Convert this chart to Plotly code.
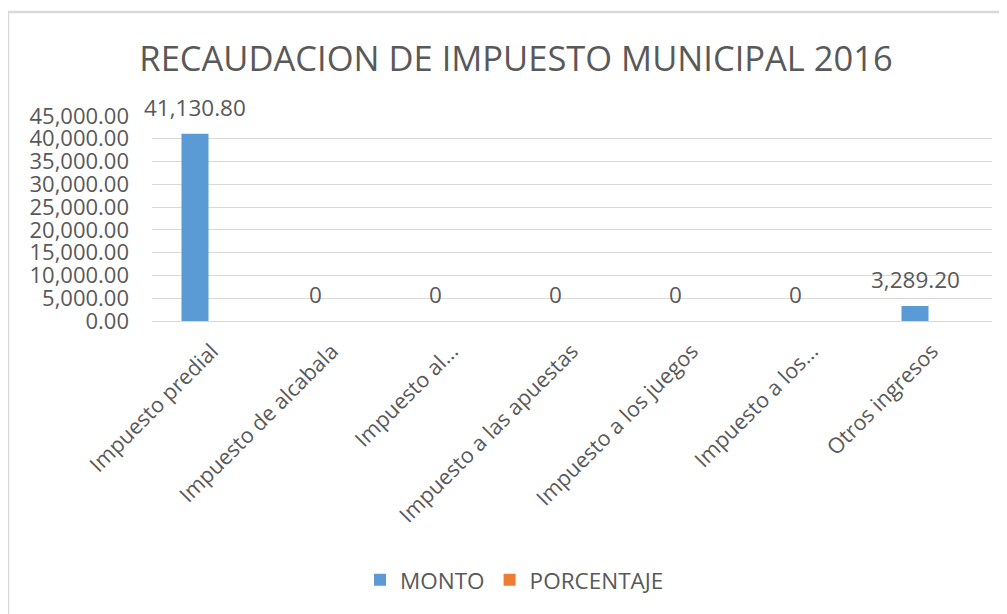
import plotly.graph_objects as go

categories = ["Impuesto predial", "Impuesto de alcabala", "Impuesto al...",
              "Impuesto a las apuestas", "Impuesto a los juegos",
              "Impuesto a los...", "Otros ingresos"]
monto = [41130.80, 0, 0, 0, 0, 0, 3289.20]
porcentaje = [0.93, 0, 0, 0, 0, 0, 0.07]
y_ticks = [0, 5000, 10000, 15000, 20000, 25000, 30000, 35000, 40000, 45000]

FONT = "Open Sans"
GRAY = "#595959"
GRID = "#d9d9d9"

def fmt(v):
    return "0" if v == 0 else f"{v:,.2f}"

fig = go.Figure()
fig.add_trace(go.Bar(name="MONTO", x=categories, y=monto, marker_color="#5b9bd5",
                     marker_line_width=0))
fig.add_trace(go.Bar(name="PORCENTAJE", x=categories, y=porcentaje, marker_color="#ed7d31",
                     marker_line_width=0))

for c, v in zip(categories, monto):
    fig.add_annotation(x=c, y=v, text=fmt(v), showarrow=False, xshift=-17, yshift=9,
                       yanchor="bottom", font=dict(family=FONT, size=22.5, color=GRAY))

fig.add_shape(type="rect", xref="paper", yref="paper", x0=-0.1714, x1=1.2, y0=-2.0, y1=1.507,
              line=dict(color=GRID, width=2.5), layer="below")

fig.update_layout(
    width=1007, height=614,
    margin=dict(l=144, r=23, t=108, b=301, autoexpand=False),
    paper_bgcolor="white", plot_bgcolor="white",
    barmode="group", bargap=0.433, bargroupgap=0.206,
    title=dict(text="RECAUDACION DE IMPUESTO MUNICIPAL 2016", xref="container", x=0.5045,
               xanchor="center", y=0.917, yanchor="middle",
               font=dict(family=FONT, size=34.5, color=GRAY)),
    font=dict(family=FONT, color=GRAY),
    legend=dict(orientation="h", xref="container", yref="container",
                x=0.503, xanchor="center", y=0.068, yanchor="middle",
                font=dict(family=FONT, size=22.5, color=GRAY), itemwidth=30),
    showlegend=True,
)
fig.update_yaxes(range=[0, 45000], tickvals=y_ticks, tickformat=",.2f", automargin=False,
                 showgrid=True, gridcolor=GRID, gridwidth=1.3, zeroline=False,
                 showline=False, ticks="", ticklabelstandoff=22,
                 tickfont=dict(family=FONT, size=22, color=GRAY))
fig.update_xaxes(range=[-0.5, len(categories) - 0.5], tickangle=-45, showgrid=False,
                 showline=True, linecolor=GRID, linewidth=1.3,
                 ticks="", ticklabelstandoff=8, automargin=False,
                 tickfont=dict(family=FONT, size=21.5, color=GRAY))

fig.write_html("out.html")
